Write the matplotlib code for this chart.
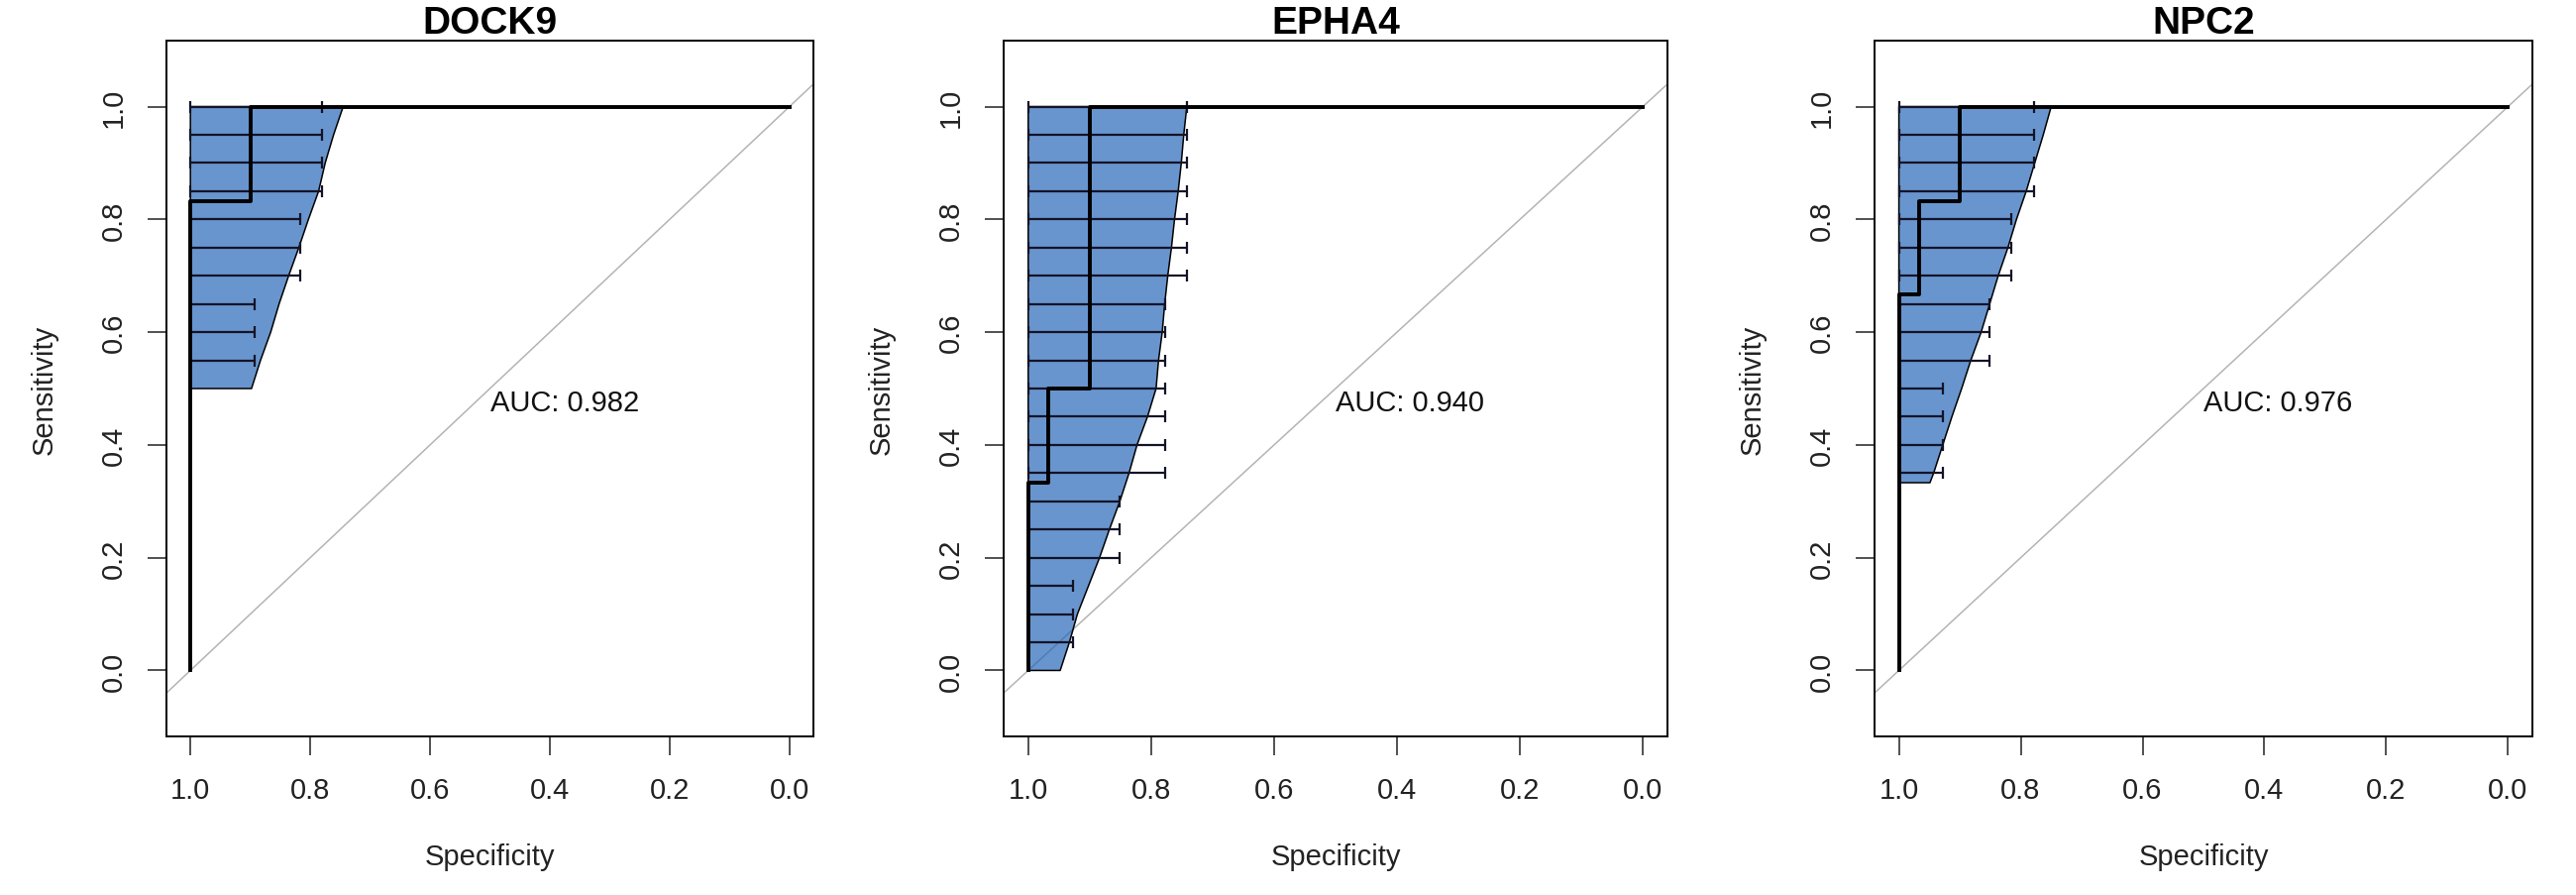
import numpy as np
import matplotlib
matplotlib.use('Agg')
import matplotlib.pyplot as plt
from matplotlib.ticker import FixedLocator, FormatStrFormatter

plt.rcParams['font.family'] = ['Liberation Sans', 'DejaVu Sans']

genes = ['DOCK9', 'EPHA4', 'NPC2']
auc_values = [0.982, 0.940, 0.976]

# ROC curves (specificity, sensitivity)
roc_sp_dock9 = [1.0, 1.0, 0.9, 0.9, 0.0]
roc_se_dock9 = [0.0, 0.833, 0.833, 1.0, 1.0]
roc_sp_epha4 = [1.0, 1.0, 0.967, 0.967, 0.9, 0.9, 0.0]
roc_se_epha4 = [0.0, 0.333, 0.333, 0.5, 0.5, 1.0, 1.0]
roc_sp_npc2 = [1.0, 1.0, 0.967, 0.967, 0.9, 0.9, 0.0]
roc_se_npc2 = [0.0, 0.667, 0.667, 0.833, 0.833, 1.0, 1.0]

# CI shape: lower specificity bound at each sensitivity (upper bound is 1.0)
shape_se_dock9 = [0.5, 0.55, 0.6, 0.65, 0.7, 0.75, 0.8, 0.85, 0.9, 0.95, 1.0]
shape_sp_dock9 = [0.898, 0.883, 0.866, 0.852, 0.836, 0.819, 0.803, 0.786, 0.775, 0.761, 0.745]
shape_se_epha4 = [0.0, 0.05, 0.1, 0.15, 0.2, 0.25, 0.3, 0.35, 0.4, 0.45, 0.5,
                  0.55, 0.6, 0.65, 0.7, 0.75, 0.8, 0.85, 0.9, 0.95, 1.0]
shape_sp_epha4 = [0.948, 0.933, 0.920, 0.902, 0.884, 0.868, 0.851, 0.836, 0.823, 0.806, 0.792,
                  0.788, 0.782, 0.778, 0.773, 0.767, 0.762, 0.756, 0.751, 0.747, 0.742]
shape_se_npc2 = [0.333, 0.35, 0.4, 0.45, 0.5, 0.55, 0.6, 0.65, 0.7, 0.75, 0.8, 0.85, 0.9, 0.95, 1.0]
shape_sp_npc2 = [0.949, 0.943, 0.928, 0.913, 0.897, 0.882, 0.865, 0.851, 0.837, 0.821, 0.807,
                 0.791, 0.777, 0.763, 0.750]

# CI bars: specificity interval at each sensitivity
bar_se_dock9 = [0.55, 0.6, 0.65, 0.7, 0.75, 0.8, 0.85, 0.9, 0.95, 1.0]
bar_lo_dock9 = [0.892, 0.892, 0.892, 0.817, 0.817, 0.817, 0.781, 0.781, 0.781, 0.781]
bar_hi_dock9 = [1.0, 1.0, 1.0, 1.0, 1.0, 1.0, 1.0, 1.0, 1.0, 1.0]
bar_se_epha4 = [0.05, 0.1, 0.15, 0.2, 0.25, 0.3, 0.35, 0.4, 0.45, 0.5,
                0.55, 0.6, 0.65, 0.7, 0.75, 0.8, 0.85, 0.9, 0.95, 1.0]
bar_lo_epha4 = [0.927, 0.927, 0.927, 0.851, 0.851, 0.851, 0.778, 0.778, 0.778, 0.778,
                0.778, 0.778, 0.778, 0.741, 0.741, 0.741, 0.741, 0.741, 0.741, 0.741]
bar_hi_epha4 = [1.0] * 20
bar_se_npc2 = [0.35, 0.4, 0.45, 0.5, 0.55, 0.6, 0.65, 0.7, 0.75, 0.8, 0.85, 0.9, 0.95, 1.0]
bar_lo_npc2 = [0.928, 0.928, 0.928, 0.928, 0.851, 0.851, 0.851, 0.815, 0.815, 0.815,
               0.778, 0.778, 0.778, 0.778]
bar_hi_npc2 = [1.0] * 14

tick_vals = [0.0, 0.2, 0.4, 0.6, 0.8, 1.0]

# axes boxes in pixels: left, top, right, bottom
W, H = 2600, 904
boxes = [(168, 42, 821, 744), (1013, 42, 1683, 744), (1892, 42, 2556, 744)]

fill_col = '#1c61b6'
bar_col = '#141428'


def plot_roc(ax, gene, auc, roc_sp, roc_se, sh_se, sh_sp, b_se, b_lo, b_hi):
    ax.set_xlim(1.04, -0.04)
    ax.set_ylim(-0.117, 1.117)

    # identity line
    ax.plot([1.04, -0.04], [-0.04, 1.04], color='#b4b4b4', lw=1.1, zorder=1)

    # CI shape
    px = [1.0] + list(sh_sp) + [1.0]
    py = [sh_se[0]] + list(sh_se) + [sh_se[-1]]
    ax.fill(px, py, facecolor=fill_col, alpha=0.667, edgecolor='none', zorder=2)
    ax.plot(px + [px[0]], py + [py[0]], color='black', lw=1.1, zorder=3)

    # CI bars
    b_lo = np.array(b_lo)
    b_hi = np.array(b_hi)
    ax.errorbar((b_lo + b_hi) / 2, b_se, xerr=(b_hi - b_lo) / 2, fmt='none',
                ecolor=bar_col, elinewidth=1.6, capsize=4.5, capthick=1.6, zorder=4)

    # ROC curve
    ax.plot(roc_sp, roc_se, color='black', lw=2.8, zorder=5)

    ax.text(0.5, 0.5, 'AUC: %.3f' % auc, ha='left', va='top', fontsize=21, color='#111111')

    ax.xaxis.set_major_locator(FixedLocator(tick_vals))
    ax.yaxis.set_major_locator(FixedLocator(tick_vals))
    ax.xaxis.set_major_formatter(FormatStrFormatter('%.1f'))
    ax.yaxis.set_major_formatter(FormatStrFormatter('%.1f'))
    ax.tick_params(axis='both', direction='out', length=14, width=1.1, labelsize=21,
                   colors='#222222')
    ax.tick_params(axis='x', pad=15)
    ax.tick_params(axis='y', pad=14)
    for lab in ax.get_yticklabels():
        lab.set_rotation(90)
        lab.set_va('center')
        lab.set_ha('right')

    for sp in ax.spines.values():
        sp.set_linewidth(1.4)

    ax.set_title(gene, fontsize=28, fontweight='bold', pad=4.5)

    ax.set_xlabel('Specificity', fontsize=21, color='#222222')
    ax.set_ylabel('Sensitivity', fontsize=21, color='#222222')
    wpx = ax.get_position().width * W
    hpx = ax.get_position().height * H
    ax.xaxis.set_label_coords(0.5, -121 / hpx)
    ax.xaxis.label.set_va('center')
    ax.yaxis.set_label_coords(-123 / wpx, 0.5)
    ax.yaxis.label.set_va('center')


fig = plt.figure(figsize=(W / 100, H / 100), dpi=100)

data = [
    (roc_sp_dock9, roc_se_dock9, shape_se_dock9, shape_sp_dock9, bar_se_dock9, bar_lo_dock9, bar_hi_dock9),
    (roc_sp_epha4, roc_se_epha4, shape_se_epha4, shape_sp_epha4, bar_se_epha4, bar_lo_epha4, bar_hi_epha4),
    (roc_sp_npc2, roc_se_npc2, shape_se_npc2, shape_sp_npc2, bar_se_npc2, bar_lo_npc2, bar_hi_npc2),
]

for i, gene in enumerate(genes):
    l, t, r, b = boxes[i]
    ax = fig.add_axes([l / W, 1 - b / H, (r - l) / W, (b - t) / H])
    plot_roc(ax, gene, auc_values[i], *data[i])

fig.savefig('out.png', dpi=100, facecolor='white')
